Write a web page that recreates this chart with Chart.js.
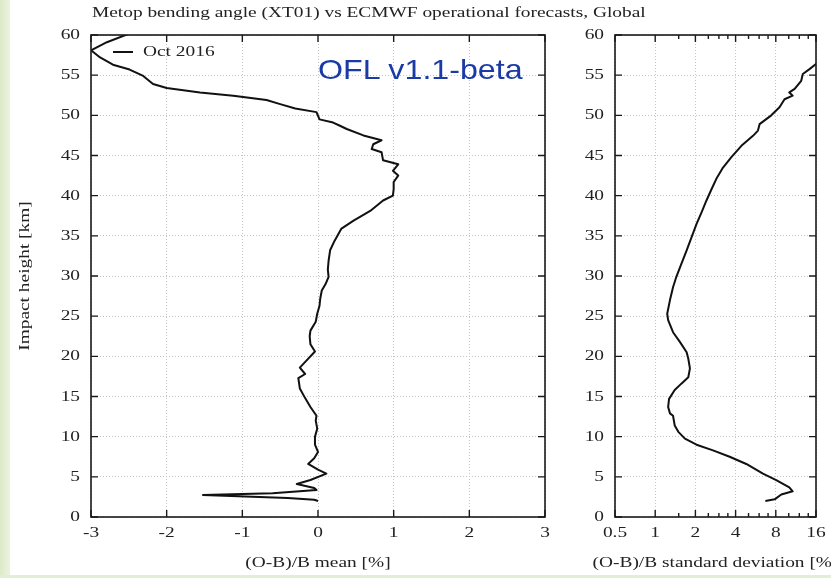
<!DOCTYPE html>
<html>
<head>
<meta charset="utf-8">
<script src="https://cdn.jsdelivr.net/npm/chart.js@4.4.1/dist/chart.umd.min.js"></script>
<style>
  html, body { margin: 0; padding: 0; background: #fff; }
  #page { position: relative; width: 831px; height: 578px; overflow: hidden; background: #fff; }
  #strip-left { position: absolute; left: 0; top: 0; width: 10px; height: 578px;
    background: linear-gradient(to right, #dde9c8, #ebf3df); }
  #strip-bottom { position: absolute; left: 0; top: 575px; width: 831px; height: 3px; background: #e3eed3; }
  #title { position: absolute; left: 92px; top: 3px; font: 15.5px "Liberation Serif", serif; color: #222;
    white-space: nowrap; transform: scaleX(1.25); transform-origin: 0 0; }
  #tag { position: absolute; left: 318px; top: 54px; font: 28px "Liberation Sans", Arial, sans-serif; color: #1a3aa6;
    white-space: nowrap; transform: scaleX(1.15); transform-origin: 0 0; }
  canvas { position: absolute; top: 0; }
  #meanChart { left: 0; }
  #sdChart { left: 565px; }
</style>
</head>
<body>
<div id="page">
  <div id="strip-left"></div>
  <div id="strip-bottom"></div>
  <canvas id="meanChart" width="570" height="578"></canvas>
  <canvas id="sdChart" width="266" height="578"></canvas>
  <div id="title">Metop bending angle (XT01) vs ECMWF operational forecasts, Global</div>
  <div id="tag">OFL v1.1-beta</div>
</div>
<script>
// Oct 2016 profiles, impact height [km]
var meanHeight = [2.0, 2.15, 2.35, 2.75, 2.95, 3.35, 3.6, 4.1, 4.6, 5.4, 5.9, 6.6, 7.3, 8.1, 9.0, 10.0, 11.0, 12.0, 12.6, 13.7,
  14.8, 16.0, 17.3, 17.8, 18.6, 19.5, 20.6, 21.5, 22.5, 23.2, 24.3, 25.3, 26.3, 27.2, 28.2, 29.0, 29.9, 30.8, 31.9, 33.2,
  34.4, 35.9, 36.9, 38.1, 39.4, 40.0, 40.8, 41.7, 42.5, 43.1, 43.9, 44.4, 45.4, 45.8, 46.4, 46.9, 47.5, 48.3, 48.7, 49.1,
  49.5, 50.4, 50.85, 51.4, 51.9, 52.45, 52.85, 53.4, 53.9, 54.9, 55.7, 56.3, 57.2, 58.1, 59.1, 59.9, 60.3];
// (O-B)/B mean [%]
var meanValue = [0.0, -0.05, -0.4, -1.52, -0.6, -0.02, -0.05, -0.28, -0.1, 0.11, 0.0, -0.13, -0.05, 0.0, -0.04, -0.04, -0.01, -0.03, -0.02, -0.1,
  -0.17, -0.24, -0.26, -0.17, -0.24, -0.15, -0.04, -0.1, -0.11, -0.1, -0.03, -0.01, 0.02, 0.03, 0.05, 0.1, 0.14, 0.13, 0.14, 0.16,
  0.22, 0.31, 0.47, 0.69, 0.86, 0.99, 1.0, 1.0, 1.06, 0.99, 1.06, 0.86, 0.84, 0.71, 0.73, 0.84, 0.6, 0.38, 0.29, 0.2,
  0.02, -0.02, -0.3, -0.5, -0.68, -1.12, -1.56, -2.0, -2.18, -2.31, -2.49, -2.71, -2.88, -3.0, -2.79, -2.57, -2.45];

var sdHeight = [2.0, 2.2, 2.8, 3.2, 3.7, 4.6, 5.4, 6.6, 7.5, 8.3, 9.0, 9.75, 10.6, 11.4, 12.6, 12.9, 13.7, 14.7, 15.8, 16.6,
  17.4, 18.5, 19.7, 20.5, 21.8, 23.0, 24.5, 25.3, 27.0, 28.6, 29.9, 31.5, 33.2, 34.8, 36.5, 37.9, 39.4, 40.8, 42.1, 43.5,
  44.8, 46.2, 47.45, 48.1, 48.9, 50.0, 51.0, 52.0, 52.45, 52.85, 53.3, 54.3, 55.15, 55.75, 56.4, 57.0];
// (O-B)/B standard deviation [%]
var sdValue = [6.68, 7.84, 8.8, 10.7, 10.1, 8.06, 6.41, 4.81, 3.61, 2.71, 2.04, 1.67, 1.49, 1.40, 1.36, 1.29, 1.25, 1.27, 1.40, 1.57,
  1.77, 1.82, 1.77, 1.72, 1.53, 1.36, 1.25, 1.23, 1.29, 1.36, 1.44, 1.57, 1.72, 1.87, 2.04, 2.22, 2.42, 2.64, 2.87, 3.22,
  3.72, 4.42, 5.40, 5.88, 6.05, 7.40, 8.53, 9.3, 10.7, 10.1, 11.07, 12.4, 12.75, 14.3, 16.0, 17.5];

var meanTicks = [-3, -2, -1, 0, 1, 2, 3];
var sdTicks = [0.5, 1, 2, 4, 8, 16];
var sdMinorTicks = [1.5, 2.5, 3, 3.5, 5, 6, 7, 10, 12, 14];
var heightTicks = [0, 5, 10, 15, 20, 25, 30, 35, 40, 45, 50, 55, 60];
var seriesLabel = 'Oct 2016';

var serif = '"Liberation Serif", "Times New Roman", serif';
var textFont = '15.5px ' + serif;
var textColor = '#222';
var stretch = 1.25;          // glyphs are drawn wide, like the rest of the figure
var gridColor = '#c4c4c4';

function pairs(xs, ys) {
  return ys.map(function (h, i) { return { x: xs[i], y: h }; });
}

function wideText(ctx, text, x, y, align, angle) {
  ctx.save();
  ctx.translate(x, y);
  if (angle) ctx.rotate(angle);
  ctx.scale(stretch, 1);
  ctx.font = textFont;
  ctx.fillStyle = textColor;
  ctx.textAlign = align;
  ctx.textBaseline = 'middle';
  ctx.fillText(text, 0, 0);
  ctx.restore();
}

// gnuplot-style box with inward tics on all four sides, plus labels
var framePlugin = {
  id: 'frame',
  afterDatasetsDraw: function (chart, args, opts) {
    var ctx = chart.ctx;
    var a = chart.chartArea;
    var xs = chart.scales.x, ys = chart.scales.y;
    ctx.save();
    ctx.strokeStyle = '#1a1a1a';
    ctx.lineWidth = 1.6;
    ctx.strokeRect(a.left, a.top, a.right - a.left, a.bottom - a.top);
    ctx.lineWidth = 1.4;
    ctx.beginPath();
    xs.ticks.forEach(function (t) {
      var px = xs.getPixelForValue(t.value);
      ctx.moveTo(px, a.bottom); ctx.lineTo(px, a.bottom - 7);
      ctx.moveTo(px, a.top); ctx.lineTo(px, a.top + 7);
    });
    ys.ticks.forEach(function (t) {
      var py = ys.getPixelForValue(t.value);
      ctx.moveTo(a.left, py); ctx.lineTo(a.left + 7, py);
      ctx.moveTo(a.right, py); ctx.lineTo(a.right - 7, py);
    });
    (opts.minor || []).forEach(function (v) {
      var px = xs.getPixelForValue(v);
      ctx.moveTo(px, a.bottom); ctx.lineTo(px, a.bottom - 4);
      ctx.moveTo(px, a.top); ctx.lineTo(px, a.top + 4);
    });
    ctx.stroke();
    ctx.restore();

    // tick labels
    xs.ticks.forEach(function (t) {
      wideText(ctx, String(t.value), xs.getPixelForValue(t.value), a.bottom + 16, 'center');
    });
    ys.ticks.forEach(function (t) {
      wideText(ctx, String(t.value), a.left - 11, ys.getPixelForValue(t.value), 'right');
    });

    if (opts.legend) {
      ctx.save();
      ctx.strokeStyle = '#111';
      ctx.lineWidth = 2;
      ctx.beginPath();
      ctx.moveTo(a.left + 22, a.top + 17);
      ctx.lineTo(a.left + 42, a.top + 17);
      ctx.stroke();
      ctx.restore();
      wideText(ctx, chart.data.datasets[0].label, a.left + 52, a.top + 17, 'left');
    }
    if (opts.xTitle) {
      wideText(ctx, opts.xTitle, (a.left + a.right) / 2, 563, 'center');
    }
    if (opts.yTitle) {
      wideText(ctx, opts.yTitle, 25, (a.top + a.bottom) / 2, 'center', -Math.PI / 2);
    }
  }
};

function heightAxis(width) {
  return {
    type: 'linear', min: 0, max: 60,
    afterBuildTicks: function (s) { s.ticks = heightTicks.map(function (v) { return { value: v }; }); },
    afterFit: function (s) { s.width = width; },
    ticks: { display: false },
    grid: { color: gridColor, drawTicks: false },
    border: { display: false, dash: [1, 2] }
  };
}

var lineStyle = {
  borderColor: '#111', borderWidth: 2, pointRadius: 0, tension: 0,
  borderJoinStyle: 'round', fill: false
};

new Chart(document.getElementById('meanChart'), {
  type: 'line',
  data: { datasets: [Object.assign({ label: seriesLabel, data: pairs(meanValue, meanHeight) }, lineStyle)] },
  options: {
    responsive: false, animation: false,
    layout: { padding: { top: 35, right: 25, left: 0, bottom: 0 } },
    plugins: { legend: { display: false }, tooltip: { enabled: false },
      frame: { legend: true, xTitle: '(O-B)/B mean [%]', yTitle: 'Impact height [km]' } },
    scales: {
      x: {
        type: 'linear', min: -3, max: 3,
        afterBuildTicks: function (s) { s.ticks = meanTicks.map(function (v) { return { value: v }; }); },
        afterFit: function (s) { s.height = 61; },
        ticks: { display: false },
        grid: { color: gridColor, drawTicks: false },
        border: { display: false, dash: [1, 2] }
      },
      y: heightAxis(91)
    }
  },
  plugins: [framePlugin]
});

new Chart(document.getElementById('sdChart'), {
  type: 'line',
  data: { datasets: [Object.assign({ label: seriesLabel, data: pairs(sdValue, sdHeight) }, lineStyle)] },
  options: {
    responsive: false, animation: false,
    layout: { padding: { top: 35, right: 15, left: 0, bottom: 0 } },
    plugins: { legend: { display: false }, tooltip: { enabled: false },
      frame: { minor: sdMinorTicks, xTitle: '(O-B)/B standard deviation [%]' } },
    scales: {
      x: {
        type: 'logarithmic', min: 0.5, max: 16,
        afterBuildTicks: function (s) { s.ticks = sdTicks.map(function (v) { return { value: v }; }); },
        afterFit: function (s) { s.height = 61; },
        ticks: { display: false },
        grid: { color: gridColor, drawTicks: false },
        border: { display: false, dash: [1, 2] }
      },
      y: heightAxis(50)
    }
  },
  plugins: [framePlugin]
});
</script>
</body>
</html>
